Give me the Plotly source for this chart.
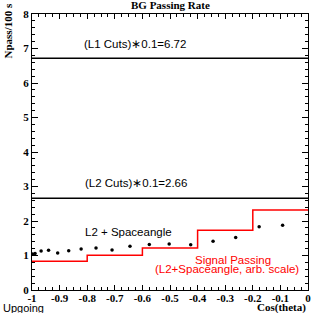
import plotly.graph_objects as go

# Data
dot_x = [-0.998, -0.989, -0.967, -0.940, -0.907, -0.867, -0.822, -0.768, -0.710,
         -0.645, -0.575, -0.503, -0.425, -0.344, -0.262, -0.177, -0.092]
dot_y = [1.04, 1.06, 1.13, 1.15, 1.07, 1.14, 1.19, 1.22, 1.16,
         1.27, 1.32, 1.33, 1.31, 1.41, 1.52, 1.83, 1.88]
sig_edges = [-1.0, -0.8, -0.6, -0.4, -0.2, 0.0]
sig_vals = [0.83, 1.01, 1.22, 1.73, 2.32]
l1_level = 6.72
l2_level = 2.66
x_ticks = [-1, -0.9, -0.8, -0.7, -0.6, -0.5, -0.4, -0.3, -0.2, -0.1, 0]
x_labels = ["-1", "-0.9", "-0.8", "-0.7", "-0.6", "-0.5", "-0.4", "-0.3", "-0.2", "-0.1", "0"]

step_x, step_y = [], []
for i, v in enumerate(sig_vals):
    step_x += [sig_edges[i], sig_edges[i + 1]]
    step_y += [v, v]

fig = go.Figure()
fig.add_trace(go.Scatter(x=[-1, 0], y=[l1_level, l1_level], mode="lines",
                         line=dict(color="black", width=1.5), showlegend=False))
fig.add_trace(go.Scatter(x=[-1, 0], y=[l2_level, l2_level], mode="lines",
                         line=dict(color="black", width=1.5), showlegend=False))
fig.add_trace(go.Scatter(x=step_x, y=step_y, mode="lines",
                         line=dict(color="#ff0000", width=1.5), showlegend=False))
fig.add_trace(go.Scatter(x=dot_x, y=dot_y, mode="markers",
                         marker=dict(color="black", size=3.5), showlegend=False))

sans = "Liberation Sans"
serif = "Liberation Serif"
ann = [
    dict(x=-0.627, y=7.13, text="(L1 Cuts)∗0.1=6.72", font=dict(family=sans, size=11.5, color="black")),
    dict(x=-0.622, y=3.10, text="(L2 Cuts)∗0.1=2.66", font=dict(family=sans, size=11.5, color="black")),
    dict(x=-0.649, y=1.68, text="L2 + Spaceangle", font=dict(family=sans, size=11.5, color="black")),
    dict(x=-0.272, y=0.87, text="Signal Passing", font=dict(family=sans, size=11.5, color="#ff0000")),
    dict(x=-0.292, y=0.61, text="(L2+Spaceangle, arb. scale)", font=dict(family=sans, size=11.5, color="#ff0000")),
]
for a in ann:
    fig.add_annotation(xref="x", yref="y", showarrow=False, xanchor="center", yanchor="middle", **a)

fig.add_annotation(xref="paper", yref="paper", x=0.5, y=1.0, yshift=9, text="<b>BG Passing Rate</b>",
                   showarrow=False, xanchor="center", yanchor="middle",
                   font=dict(family=serif, size=11, color="black"))
fig.add_annotation(xref="paper", yref="paper", x=0, xshift=-25, y=1.0, yshift=12, text="<b>Npass/100 s</b>",
                   showarrow=False, textangle=-90, xanchor="center", yanchor="top",
                   font=dict(family=serif, size=11, color="black"))
fig.add_annotation(xref="paper", yref="paper", x=1.0, y=0, yshift=-17.5, text="<b>Cos(theta)</b>",
                   showarrow=False, xanchor="right", yanchor="middle",
                   font=dict(family=serif, size=11, color="black"))
fig.add_annotation(xref="paper", yref="paper", x=0, xshift=-31, y=0, yshift=-17.5, text="Upgoing",
                   showarrow=False, xanchor="left", yanchor="middle",
                   font=dict(family=sans, size=11, color="black"))

fig.update_layout(
    width=316, height=313,
    margin=dict(l=32, r=5, t=14, b=23),
    paper_bgcolor="white", plot_bgcolor="white",
    xaxis=dict(range=[-1, 0], tickvals=x_ticks, ticktext=x_labels,
               ticks="inside", ticklen=5, tickcolor="black", tickwidth=1,
               showgrid=False, zeroline=False, showline=True, linecolor="black", linewidth=1,
               mirror="allticks", ticklabelstandoff=-2,
               minor=dict(dtick=0.025, ticks="inside", ticklen=3, tickcolor="black", showgrid=False),
               tickfont=dict(family=serif, size=11, color="black", weight="bold")),
    yaxis=dict(range=[0, 8], dtick=1,
               ticks="inside", ticklen=6, tickcolor="black", tickwidth=1,
               showgrid=False, zeroline=False, showline=True, linecolor="black", linewidth=1,
               mirror="allticks",
               minor=dict(dtick=0.2, ticks="inside", ticklen=3, tickcolor="black", showgrid=False),
               tickfont=dict(family=serif, size=11, color="black", weight="bold")),
)

fig.write_html("out.html", config={"displayModeBar": False},
               post_script="document.body.style.margin='0px';document.body.style.padding='0px';")
